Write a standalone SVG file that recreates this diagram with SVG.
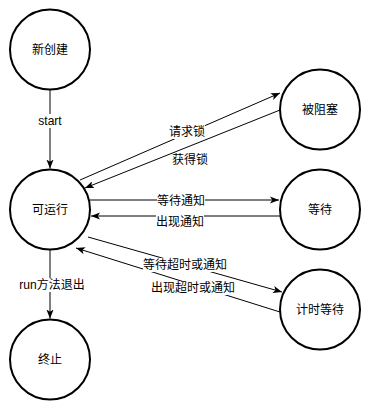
<svg xmlns="http://www.w3.org/2000/svg" width="368" height="407" viewBox="0 0 368 407">
<style>
.node circle{fill:#fff;stroke:#000;stroke-width:2}
text{font-family:"Liberation Sans","Noto Sans CJK SC",sans-serif;font-size:12px;fill:#000;text-anchor:middle;dominant-baseline:central}
.edge{stroke:#000;stroke-width:1;fill:none;marker-end:url(#arr)}
.lbg{fill:#fff}
</style>
<defs>
<marker id="arr" viewBox="0 0 10 8" refX="10" refY="4" markerWidth="9" markerHeight="7.2" markerUnits="userSpaceOnUse" orient="auto">
<path d="M0,0 L10,4 L0,8 L2.5,4 Z" fill="#000"/>
</marker>
</defs>
<rect width="368" height="407" fill="#fff"/>
<g id="connectors">
<path class="edge" d="M50,89.5 L50,168.5"/>
<path class="edge" d="M80,180 L280,93"/>
<path class="edge" d="M280,110 L85,188"/>
<path class="edge" d="M90,200 L279,200"/>
<path class="edge" d="M280,216 L91,216"/>
<path class="edge" d="M88,237 L282,292"/>
<path class="edge" d="M280,312 L76,248"/>
<path class="edge" d="M50,249.5 L50,318.5"/>
<g id="edge-labels">
<rect class="lbg" x="35" y="114" width="30" height="14"/>
<text x="50" y="121">start</text>
<rect class="lbg" x="169" y="125" width="36" height="14"/>
<text x="187" y="132">请求锁</text>
<text x="190" y="160">获得锁</text>
<rect class="lbg" x="157" y="194" width="48" height="14"/>
<text x="181" y="201">等待通知</text>
<rect class="lbg" x="156" y="215" width="48" height="14"/>
<text x="180" y="222">出现通知</text>
<rect class="lbg" x="143" y="258" width="84" height="14"/>
<text x="185" y="265">等待超时或通知</text>
<rect class="lbg" x="151" y="281" width="84" height="14"/>
<text x="193" y="288">出现超时或通知</text>
<rect class="lbg" x="19" y="278" width="66" height="14"/>
<text x="52" y="285">run方法退出</text>
</g>
</g>
<g id="node-new" class="node"><circle cx="50" cy="49.5" r="40"/><text x="50" y="50">新创建</text></g>
<g id="node-runnable" class="node"><circle cx="50" cy="209.5" r="40"/><text x="50" y="210">可运行</text></g>
<g id="node-terminated" class="node"><circle cx="50" cy="359.5" r="40"/><text x="50" y="360">终止</text></g>
<g id="node-blocked" class="node"><circle cx="320" cy="109.5" r="40"/><text x="320" y="110">被阻塞</text></g>
<g id="node-waiting" class="node"><circle cx="320" cy="209.5" r="40"/><text x="320" y="210">等待</text></g>
<g id="node-timed" class="node"><circle cx="320" cy="309.5" r="40"/><text x="320" y="310">计时等待</text></g>
</svg>
